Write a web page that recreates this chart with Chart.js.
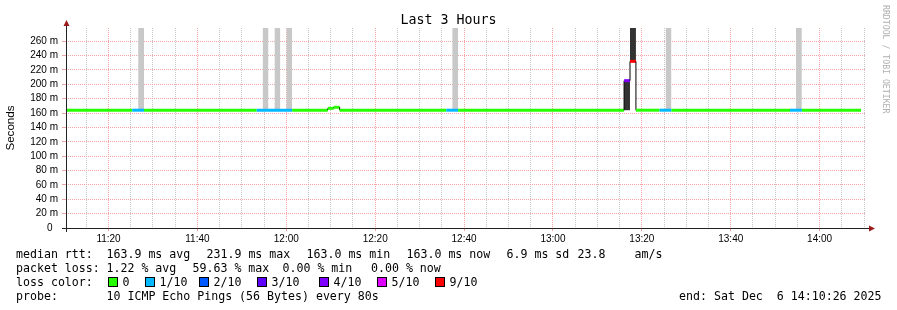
<!DOCTYPE html>
<html>
<head>
<meta charset="utf-8">
<script src="https://cdn.jsdelivr.net/npm/chart.js@4.4.0/dist/chart.umd.min.js"></script>
<style>
  body { margin: 0; background: #fff; }
  #wrap { position: relative; width: 897px; height: 310px; overflow: hidden; font-family: 'DejaVu Sans Mono', monospace; color: #000; }
  #c { position: absolute; left: 0; top: 0; }
  #title { position: absolute; left: 0; top: 12px; width: 897px; text-align: center; font-size: 13.3px; line-height: 16px; }
  #credit { position: absolute; left: 881px; top: 5px; writing-mode: vertical-rl; font-size: 8.2px; line-height: 10px; color: #b0b0b0; white-space: pre; }
  .t { position: absolute; white-space: pre; font-size: 11.6px; line-height: 14px; }
  .box { position: absolute; width: 8px; height: 8px; border: 1px solid #000; }
</style>
</head>
<body>
<div id="wrap">
  <canvas id="c" width="897" height="250"></canvas>
  <div id="title">Last 3 Hours</div>
  <div id="credit">RRDTOOL / TOBI OETIKER</div>
</div>
<script>
// time window shown (clock time)
const viewStart = '11:10:26';
const viewEnd = '14:10:26';
const stepSec = 80;

// median rtt, ms: value holds from each start time until the next one
const medianStart = ['11:10:26', '12:09:20', '12:10:40', '12:12:00', '13:16:00', '13:17:20', '13:18:40'];
const medianMs = [163.9, 166.5, 168.0, 163.9, 205.0, 231.9, 163.9];
const medianLast = '14:09:20';

// packet loss periods (colour of the median line)
const lossStart = ['11:25:20', '11:53:20', '12:36:00', '13:16:00', '13:17:20', '13:24:00', '13:53:20'];
const lossEnd = ['11:28:00', '12:01:20', '12:38:40', '13:17:20', '13:18:40', '13:26:40', '13:56:00'];
const lossTenths = [1, 1, 1, 4, 9, 1, 1];

// smoke: light columns where pings were lost, dark columns of rtt spread
const smokeStart = ['11:26:40', '11:54:40', '11:57:20', '12:00:00', '12:37:20', '13:25:20', '13:54:40'];
const smokeLow = 163.9;
const smokeHigh = 300;
const darkSmokeStart = ['13:16:00', '13:17:20'];
const darkSmokeLow = [163.9, 231.9];
const darkSmokeHigh = [205.0, 300];
const clearStart = ['13:17:20'];
const clearLow = [163.9];
const clearHigh = [231.9];

// legend
const lossLabels = ['0', '1/10', '2/10', '3/10', '4/10', '5/10', '9/10'];
const lossColors = ['#26ff00', '#00b8ff', '#0059ff', '#5e00ff', '#7e00ff', '#dd00ff', '#ff0000'];
const statNames = ['avg', 'max', 'min', 'now'];
const rttStats = [163.9, 231.9, 163.0, 163.0];
const rttSd = 6.9;
const rttAmS = 23.8;
const lossPct = [1.22, 59.63, 0.00, 0.00];
const probeText = '10 ICMP Echo Pings (56 Bytes) every 80s';
const endText = 'end: Sat Dec  6 14:10:26 2025';

const toMin = s => { const [h, m, sec] = s.split(':').map(Number); return h * 60 + m + sec / 60; };
const stepMin = stepSec / 60;
const yTop = Math.max(...medianMs) * 1.2; // smokeping scales to 1.2 x max median
const majorGrid = '#f2a4a4';
const minorGrid = '#c8c8c8';

// build median line pieces, each piece coloured by its loss
const cuts = [...new Set([...medianStart, ...lossStart, ...lossEnd, medianLast].map(toMin))].sort((a, b) => a - b);
const medianPts = [];
const pieceColor = [];
for (let i = 0; i < cuts.length - 1; i++) {
  const a = cuts[i], b = cuts[i + 1];
  let v = medianMs[0];
  medianStart.forEach((s, j) => { if (toMin(s) <= a + 1e-6) v = medianMs[j]; });
  let c = lossColors[0];
  lossStart.forEach((s, j) => {
    if (toMin(s) <= a + 1e-6 && a < toMin(lossEnd[j]) - 1e-6) c = lossColors[lossLabels.indexOf(lossTenths[j] + '/10')];
  });
  medianPts.push({ x: a, y: v }, { x: b, y: v });
  pieceColor.push(c);
}

function column(start, low, high, color) {
  const a = toMin(start);
  return {
    data: [{ x: a, y: high }, { x: a + stepMin, y: high }],
    fill: { value: low },
    backgroundColor: color,
    borderColor: 'transparent',
    borderWidth: 0,
    pointRadius: 0
  };
}

const datasets = [
  {
    data: medianPts,
    borderColor: lossColors[0],
    borderWidth: 3,
    pointRadius: 0,
    fill: false,
    stepped: 'after',
    segment: {
      borderColor: ctx => ctx.p0DataIndex % 2 === 0 ? pieceColor[ctx.p0DataIndex / 2] : '#000',
      borderWidth: ctx => ctx.p0DataIndex % 2 === 0 ? 3 : 1
    }
  },
  ...clearStart.map((s, i) => column(s, clearLow[i], clearHigh[i], '#fff')),
  ...darkSmokeStart.map((s, i) => column(s, darkSmokeLow[i], darkSmokeHigh[i], '#333')),
  ...smokeStart.map(s => column(s, smokeLow, smokeHigh, '#c8c8c8'))
];

// axis lines with arrows, drawn like rrdtool
const rrdAxes = {
  id: 'rrdAxes',
  afterDatasetsDraw(chart) {
    const { ctx, chartArea: a } = chart;
    const ax = a.left + 0.5;
    const ay = a.bottom + 0.5;
    ctx.save();
    ctx.strokeStyle = '#222';
    ctx.lineWidth = 1;
    ctx.beginPath();
    ctx.moveTo(a.left - 4, ay);
    ctx.lineTo(a.right + 4, ay);
    ctx.moveTo(ax, a.bottom + 4);
    ctx.lineTo(ax, a.top - 3);
    ctx.stroke();
    ctx.fillStyle = '#9b1c1c';
    ctx.beginPath();
    ctx.moveTo(ax, a.top - 8);
    ctx.lineTo(ax - 3, a.top - 2);
    ctx.lineTo(ax + 3, a.top - 2);
    ctx.closePath();
    ctx.fill();
    ctx.beginPath();
    ctx.moveTo(a.right + 9, ay);
    ctx.lineTo(a.right + 3, ay - 3);
    ctx.lineTo(a.right + 3, ay + 3);
    ctx.closePath();
    ctx.fill();
    ctx.restore();
  }
};

const gridColor = ctx => (ctx.tick && ctx.tick.value % 20 === 0) ? majorGrid : minorGrid;

new Chart(document.getElementById('c'), {
  type: 'line',
  data: { datasets },
  options: {
    responsive: false,
    devicePixelRatio: 1,
    animation: false,
    events: [],
    layout: { padding: { top: 28, right: 31, left: 0, bottom: 0 } },
    plugins: { legend: { display: false }, tooltip: { enabled: false }, title: { display: false } },
    scales: {
      x: {
        type: 'linear',
        min: toMin(viewStart),
        max: toMin(viewEnd),
        afterBuildTicks: scale => {
          const ticks = [];
          for (let m = Math.ceil(toMin(viewStart) / 5) * 5; m <= toMin(viewEnd); m += 5) ticks.push({ value: m });
          scale.ticks = ticks;
        },
        afterFit: scale => { scale.height = 22; },
        ticks: {
          autoSkip: false,
          maxRotation: 0,
          padding: 2,
          font: { size: 10 },
          color: '#000',
          callback: v => v % 20 === 0 ? Math.floor(v / 60) + ':' + String(v % 60).padStart(2, '0') : ''
        },
        grid: {
          color: gridColor,
          tickColor: ctx => (ctx.tick && ctx.tick.value % 20 === 0) ? majorGrid : 'transparent',
          tickLength: 3,
          lineWidth: 1
        },
        border: { display: false, dash: [1, 1] }
      },
      y: {
        min: 0,
        max: yTop,
        afterBuildTicks: scale => {
          const ticks = [];
          for (let v = 0; v < yTop; v += 10) ticks.push({ value: v });
          scale.ticks = ticks;
        },
        afterFit: scale => { scale.width = 66; },
        ticks: {
          padding: 4,
          font: { size: 10 },
          color: '#000',
          callback: v => v % 20 !== 0 ? '' : (v === 0 ? '0  ' : v + ' m')
        },
        grid: {
          color: gridColor,
          tickColor: gridColor,
          tickLength: 4,
          lineWidth: 1
        },
        border: { display: false, dash: [1, 1] },
        title: {
          display: true,
          text: 'Seconds',
          color: '#000',
          font: { size: 11.6 },
          padding: { top: 4, bottom: 0 }
        }
      }
    }
  },
  plugins: [rrdAxes]
});

// legend rows below the graph
const wrap = document.getElementById('wrap');
const rowY = [254, 268, 282, 296];
function put(x, row, text, alignRight) {
  const s = document.createElement('span');
  s.className = 't';
  if (alignRight) s.style.right = x + 'px'; else s.style.left = x + 'px';
  s.style.top = (rowY[row] - 7) + 'px';
  s.textContent = text;
  wrap.appendChild(s);
}

const row1X = [16, 106.5, 206.5, 306.5, 406.5, 506.5, 577.5, 634.5];
const row1 = ['median rtt:', ...rttStats.map((v, i) => v.toFixed(1) + ' ms ' + statNames[i]), rttSd.toFixed(1) + ' ms sd', rttAmS.toFixed(1), 'am/s'];
row1.forEach((t, i) => put(row1X[i], 0, t));

const row2X = [16, 106.5, 192.5, 282.5, 371];
const row2 = ['packet loss:', ...lossPct.map((v, i) => v.toFixed(2) + ' % ' + statNames[i])];
row2.forEach((t, i) => put(row2X[i], 1, t));

put(16, 2, 'loss color:');
const boxX = [108, 145, 199, 257, 319, 377, 435];
lossLabels.forEach((lab, i) => {
  const b = document.createElement('div');
  b.className = 'box';
  b.style.left = boxX[i] + 'px';
  b.style.top = (rowY[2] - 5) + 'px';
  b.style.background = lossColors[i];
  wrap.appendChild(b);
  put(boxX[i] + 14.5, 2, lab);
});

put(16, 3, 'probe:');
put(106.5, 3, probeText);
put(15.5, 3, endText, true);
</script>
</body>
</html>
